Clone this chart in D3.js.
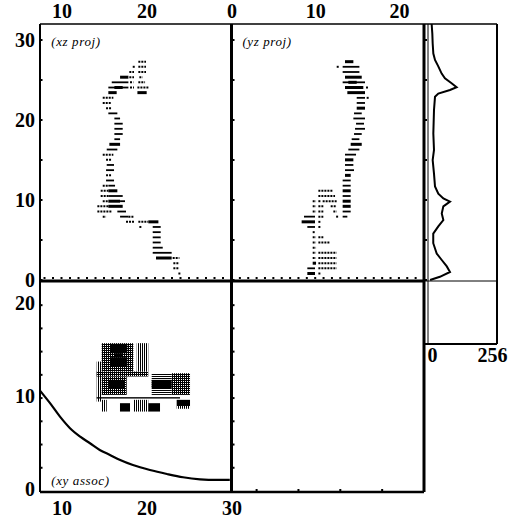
<!DOCTYPE html>
<html>
<head>
<meta charset="utf-8">
<script src="https://cdn.jsdelivr.net/npm/d3@7"></script>
<style>
  body { margin: 0; background: #fff; }
</style>
</head>
<body>
<div id="chart"></div>
<script>
// z of each slice (shared by the two projections)
var zRows = [27.29, 26.65, 26.0, 25.35, 24.71, 24.06, 23.42, 22.77, 22.13, 21.48,
  20.83, 20.19, 19.54, 18.9, 18.25, 17.6, 16.96, 16.31, 15.67, 15.02,
  14.38, 13.73, 13.08, 12.44, 11.79, 11.15, 10.5, 9.85, 9.21, 8.56,
  7.92, 7.27, 6.63, 5.98, 5.33, 4.69, 4.04, 3.4, 2.75, 2.1, 1.46, 0.81];

// xz projection: per slice [x from, x to, density level 1..3]
var xzSegs = [
  [[19.04, 19.94, 1]],
  [[18.38, 18.45, 1], [19.04, 19.94, 1]],
  [[17.98, 18.53, 1], [19.04, 19.94, 1]],
  [[16.89, 17.87, 3], [17.98, 18.53, 1], [19.16, 19.55, 1]],
  [[15.91, 17.87, 2], [18.06, 18.45, 1], [19.04, 19.83, 1]],
  [[15.51, 17.87, 2], [16.22, 17.2, 3], [18.06, 18.53, 1], [18.93, 20.22, 1]],
  [[15.51, 16.49, 3], [18.93, 20.02, 3]],
  [[14.85, 16.1, 1]],
  [[14.85, 15.91, 1]],
  [[15.24, 15.91, 1]],
  [[15.51, 16.57, 2]],
  [[16.22, 16.89, 2]],
  [[16.22, 17.2, 2]],
  [[16.22, 17.2, 2]],
  [[16.22, 17.2, 2]],
  [[16.22, 16.89, 2]],
  [[15.63, 16.89, 3]],
  [[15.32, 16.57, 2]],
  [[14.85, 16.1, 1]],
  [[15.24, 15.91, 1]],
  [[15.32, 16.18, 2]],
  [[15.24, 16.18, 2]],
  [[15.24, 15.91, 1]],
  [[15.24, 16.18, 2]],
  [[14.85, 15.51, 1], [15.51, 16.3, 2]],
  [[14.61, 15.51, 1], [15.51, 16.57, 3]],
  [[14.61, 15.51, 1], [15.51, 17.2, 2]],
  [[14.85, 15.51, 1], [15.51, 16.89, 3], [16.89, 17.47, 2]],
  [[14.22, 15.51, 1], [15.51, 17.2, 3]],
  [[14.22, 15.91, 1], [16.57, 17.59, 2]],
  [[14.85, 15.24, 1], [16.89, 17.87, 2], [17.87, 18.53, 1]],
  [[17.59, 18.53, 1], [19.04, 20.22, 1], [20.22, 21.4, 3]],
  [[19.16, 19.24, 1], [20.73, 21.67, 2]],
  [[20.73, 21.67, 2]],
  [[20.73, 21.67, 2]],
  [[20.73, 21.67, 2]],
  [[20.73, 21.91, 2]],
  [[20.73, 22.96, 2]],
  [[21.12, 22.96, 3], [23.08, 23.87, 1]],
  [[23.16, 23.87, 1]],
  [[23.16, 23.87, 1]],
  [[23.75, 23.87, 1]]
];

// yz projection: per slice [y from, y to, density level 1..3]
var yzSegs = [
  [[13.56, 14.56, 3]],
  [[12.57, 12.65, 1], [13.28, 15.28, 2]],
  [[13.28, 15.28, 2]],
  [[13.56, 15.56, 3]],
  [[13.28, 15.95, 2], [13.96, 14.96, 3]],
  [[13.56, 15.75, 3], [16.07, 16.15, 1]],
  [[13.84, 15.95, 3]],
  [[14.96, 15.95, 2], [16.15, 16.23, 1]],
  [[14.96, 15.95, 2]],
  [[14.96, 15.95, 3]],
  [[14.64, 15.56, 2]],
  [[14.56, 15.95, 2]],
  [[14.88, 15.83, 2]],
  [[14.76, 15.95, 2]],
  [[14.64, 15.56, 2]],
  [[14.36, 15.28, 2]],
  [[14.24, 15.56, 3]],
  [[13.96, 15.28, 2]],
  [[13.56, 14.88, 2]],
  [[13.56, 14.56, 3]],
  [[13.56, 14.56, 2]],
  [[13.56, 14.64, 2]],
  [[13.56, 14.24, 3]],
  [[13.28, 14.24, 2]],
  [[13.28, 14.24, 2]],
  [[10.38, 12.09, 1], [13.28, 14.24, 3]],
  [[10.38, 12.37, 1], [13.28, 14.24, 2]],
  [[9.7, 10.1, 1], [10.38, 10.66, 1], [10.89, 12.57, 1], [13.28, 14.24, 3]],
  [[9.7, 10.1, 1], [10.38, 10.97, 1], [11.85, 12.57, 1], [13.28, 14.24, 3]],
  [[9.7, 10.1, 1], [10.38, 10.97, 1], [12.17, 12.57, 1], [13.28, 14.24, 2]],
  [[8.66, 9.98, 2], [10.38, 10.97, 1], [12.5, 12.6, 1], [13.28, 13.84, 2]],
  [[8.38, 9.98, 3], [10.38, 10.66, 1]],
  [[9.06, 9.98, 2], [10.38, 10.46, 1]],
  [[9.7, 9.98, 1]],
  [[9.7, 10.1, 1], [10.38, 10.97, 1]],
  [[9.7, 10.1, 1], [10.38, 11.77, 1]],
  [[9.7, 10.1, 1]],
  [[9.7, 10.1, 1], [10.38, 12.57, 1]],
  [[9.7, 10.1, 1], [10.38, 12.57, 1]],
  [[9.7, 10.1, 3], [10.38, 12.57, 1]],
  [[9.06, 9.98, 2], [10.38, 12.57, 1]],
  [[9.06, 9.98, 3], [10.38, 10.6, 1]]
];

// z histogram (0..256)
var histZ = [32, 30.8, 29.6, 28.3, 27.5, 26.7, 25.8, 25.2, 24.6, 24.1, 23.75, 23.3, 22.9,
  21.25, 18.3, 16.25, 15, 13.3, 11.7, 10.8, 10.2, 9.8, 9.2, 8.3, 7.5, 6.7, 5.8,
  4.6, 3.3, 2.5, 1.7, 1.0, 0.4, 0];
var histCount = [10, 12.5, 13.8, 16.3, 22.6, 35, 47.7, 60, 85, 104, 79, 35, 22.6,
  18.8, 16.3, 18.8, 13.8, 18.8, 22.6, 35, 54, 79, 54, 48, 54, 35, 16,
  16, 29, 48, 67, 79, 41, 4];

// xy association curve
var curveX = [7.47, 8.65, 9.82, 11.0, 12.2, 13.35, 14.5, 15.7, 16.9, 18.4, 20.4, 22.4, 24.3, 26.3, 28.3, 29.8];
var curveY = [10.8, 9.45, 8.0, 6.76, 5.85, 5.14, 4.42, 3.88, 3.34, 2.8, 2.26, 1.83, 1.48, 1.26, 1.19, 1.19];

// xy association cells: [x1, x2, y1, y2, kind]
var xyCells = [
  [14.73, 18.45, 12.86, 15.91, 'grid'],
  [18.85, 20.21, 12.86, 15.91, 'vh'],
  [14.14, 14.73, 9.62, 13.93, 'vh'],
  [14.14, 20.21, 12.32, 12.86, 'grid'],
  [14.73, 17.67, 10.34, 12.32, 'grid'],
  [20.61, 22.96, 10.34, 12.68, 'hh'],
  [22.96, 25.12, 10.34, 12.68, 'grid'],
  [15.71, 17.74, 14.83, 15.84, 'solid'],
  [16.29, 17.2, 14.4, 14.83, 'solid'],
  [15.71, 17.74, 13.4, 14.4, 'solid'],
  [15.51, 17.47, 11.07, 11.96, 'solid'],
  [20.61, 22.96, 11.07, 11.96, 'solid'],
  [14.14, 23.94, 9.95, 10.1, 'solid'],
  [14.73, 15.32, 8.55, 9.81, 'vh'],
  [16.88, 18.06, 8.55, 9.45, 'solid'],
  [18.45, 20.21, 8.55, 9.81, 'vh'],
  [20.21, 21.59, 8.55, 9.45, 'solid'],
  [23.55, 25.12, 9.15, 9.81, 'solid'],
  [23.55, 25.12, 8.85, 9.15, 'vh']
];

var xTopTicks = [10, 20];
var xBottomTicks = [10, 20, 30];
var yTopTicks = [0, 10, 20];
var yLeftTicks = [0, 10, 20];
var zTicks = [0, 10, 20, 30];
var countTicks = [0, 256];

var width = 513;
var height = 519;
var svg = d3.select('#chart')
    .append('svg')
    .attr('width', width)
    .attr('height', height)
    .style('display', 'block');

// scales
var L = 40, M = 231.5, R = 424, HR = 497;
var T = 24, MID = 281, B = 492;
var scaleX = d3.scaleLinear().domain([7.47, 30]).range([L, M]);
var scaleZ = d3.scaleLinear().domain([0, 32]).range([280, T]);
var scaleYh = d3.scaleLinear().domain([0, 23]).range([M, R]);
var scaleYv = d3.scaleLinear().domain([0, 22.6]).range([491, MID]);
var scaleC = d3.scaleLinear().domain([0, 256]).range([429, HR]);

// patterns for the xy cells
var defs = svg.append('defs');
var pv = defs.append('pattern').attr('id', 'vh').attr('width', 2).attr('height', 2)
    .attr('patternUnits', 'userSpaceOnUse');
pv.append('rect').attr('width', 1).attr('height', 2).attr('fill', '#000');
var ph = defs.append('pattern').attr('id', 'hh').attr('width', 2).attr('height', 2)
    .attr('patternUnits', 'userSpaceOnUse');
ph.append('rect').attr('width', 2).attr('height', 1).attr('fill', '#000');
var pg = defs.append('pattern').attr('id', 'grid').attr('width', 2).attr('height', 2)
    .attr('patternUnits', 'userSpaceOnUse');
pg.append('rect').attr('width', 1).attr('height', 2).attr('fill', '#000');
pg.append('rect').attr('width', 2).attr('height', 1).attr('fill', '#000');

// projection slices
var levelWidth = {1: 2, 2: 1.8, 3: 3};
function drawSlices(segs, scale) {
  var flat = [];
  segs.forEach(function(row, i) {
    row.forEach(function(s) { flat.push({z: zRows[i], a: s[0], b: s[1], k: s[2]}); });
  });
  svg.append('g').selectAll('line')
      .data(flat)
      .enter()
      .append('line')
      .attr('x1', function(d) { return scale(d.a); })
      .attr('x2', function(d) { return Math.max(scale(d.b), scale(d.a) + 2); })
      .attr('y1', function(d) { return scaleZ(d.z); })
      .attr('y2', function(d) { return scaleZ(d.z); })
      .attr('stroke', '#000')
      .attr('stroke-width', function(d) { return levelWidth[d.k]; })
      .attr('stroke-dasharray', function(d) { return d.k === 1 ? '2,1' : null; });
}
drawSlices(xzSegs, scaleX);
drawSlices(yzSegs, scaleYh);

// xy cells
svg.append('g').selectAll('rect')
    .data(xyCells)
    .enter()
    .append('rect')
    .attr('x', function(d) { return scaleX(d[0]); })
    .attr('width', function(d) { return scaleX(d[1]) - scaleX(d[0]); })
    .attr('y', function(d) { return scaleYv(d[3]); })
    .attr('height', function(d) { return scaleYv(d[2]) - scaleYv(d[3]); })
    .attr('fill', function(d) { return d[4] === 'solid' ? '#000' : 'url(#' + d[4] + ')'; });

// xy curve
var line = d3.line()
    .x(function(d, i) { return scaleX(curveX[i]); })
    .y(function(d, i) { return scaleYv(curveY[i]); })
    .curve(d3.curveMonotoneX);
svg.append('path')
    .attr('d', line(curveX))
    .attr('fill', 'none')
    .attr('stroke', '#000')
    .attr('stroke-width', 2.2);

// histogram
var hline = d3.line()
    .x(function(d, i) { return scaleC(histCount[i]); })
    .y(function(d, i) { return scaleZ(histZ[i]); });
svg.append('path')
    .attr('d', hline(histZ))
    .attr('fill', 'none')
    .attr('stroke', '#000')
    .attr('stroke-width', 2);

// frames
var frames = [
  [L, T, HR, T, 1.5],
  [L, T, L, B, 2],
  [M, T, M, B, 3],
  [R, T, R, B, 3],
  [L, MID, R, MID, 3],
  [R, MID, HR, MID, 1],
  [L, B, R, B, 2.5],
  [HR, T, HR, 344, 2],
  [R, 344, HR, 344, 2],
  [428, T, 428, 344, 1]
];
svg.append('g').selectAll('line')
    .data(frames)
    .enter()
    .append('line')
    .attr('x1', function(d) { return d[0]; })
    .attr('y1', function(d) { return d[1]; })
    .attr('x2', function(d) { return d[2]; })
    .attr('y2', function(d) { return d[3]; })
    .attr('stroke', '#000')
    .attr('stroke-width', function(d) { return d[4]; });

// tick dots
var dots = [];
d3.range(0, 31, 5).forEach(function(z) {
  dots.push([L + 1.5, scaleZ(z)], [M + 2, scaleZ(z)], [R + 2, scaleZ(z)]);
});
d3.range(8, 30).forEach(function(x) { dots.push([scaleX(x), MID - 3]); });
d3.range(1, 23).forEach(function(y) { dots.push([scaleYh(y), MID - 3]); });
d3.range(2.5, 22, 2.5).forEach(function(y) {
  dots.push([L + 1.5, scaleYv(y)], [M + 2, scaleYv(y)]);
});
[3, 8, 13, 18].forEach(function(y) { dots.push([scaleYh(y), B - 2]); });
svg.append('g').selectAll('rect')
    .data(dots)
    .enter()
    .append('rect')
    .attr('x', function(d) { return d[0] - 1; })
    .attr('y', function(d) { return d[1] - 1; })
    .attr('width', 2)
    .attr('height', 2)
    .attr('fill', '#000');

// axis labels
function styleAxis(g) {
  g.select('.domain').remove();
  g.attr('font-family', '"Liberation Serif", serif')
      .attr('font-size', 20)
      .attr('font-weight', 'bold');
  g.selectAll('text').attr('fill', '#000');
}
svg.append('g').attr('transform', 'translate(0,18)')
    .call(d3.axisTop(scaleX).tickValues(xTopTicks).tickSize(0).tickPadding(0))
    .call(styleAxis);
svg.append('g').attr('transform', 'translate(0,18)')
    .call(d3.axisTop(scaleYh).tickValues(yTopTicks).tickSize(0).tickPadding(0))
    .call(styleAxis);
svg.append('g').attr('transform', 'translate(0,501)')
    .call(d3.axisBottom(scaleX).tickValues(xBottomTicks).tickSize(0).tickPadding(0))
    .call(styleAxis);
svg.append('g').attr('transform', 'translate(35,0)')
    .call(d3.axisLeft(scaleZ).tickValues(zTicks).tickSize(0).tickPadding(0))
    .call(styleAxis);
svg.append('g').attr('transform', 'translate(35,-2)')
    .call(d3.axisLeft(scaleYv).tickValues(yLeftTicks).tickSize(0).tickPadding(0))
    .call(styleAxis);
svg.append('g').attr('transform', 'translate(0,348)')
    .call(d3.axisBottom(scaleC).tickValues(countTicks).tickSize(0).tickPadding(0))
    .call(styleAxis)
    .selectAll('text')
    .attr('dx', function(d) { return d === 0 ? 3 : -5; });

// panel captions
var captions = [
  ['(xz proj)', scaleX(8.8), 46],
  ['(yz proj)', scaleYh(1.3), 46],
  ['(xy assoc)', scaleX(8.8), 485]
];
svg.append('g').selectAll('text')
    .data(captions)
    .enter()
    .append('text')
    .text(function(d) { return d[0]; })
    .attr('x', function(d) { return d[1]; })
    .attr('y', function(d) { return d[2]; })
    .attr('font-family', '"Liberation Serif", serif')
    .attr('font-style', 'italic')
    .attr('font-size', 13)
    .attr('letter-spacing', 0.6)
    .attr('fill', '#000');
</script>
</body>
</html>
